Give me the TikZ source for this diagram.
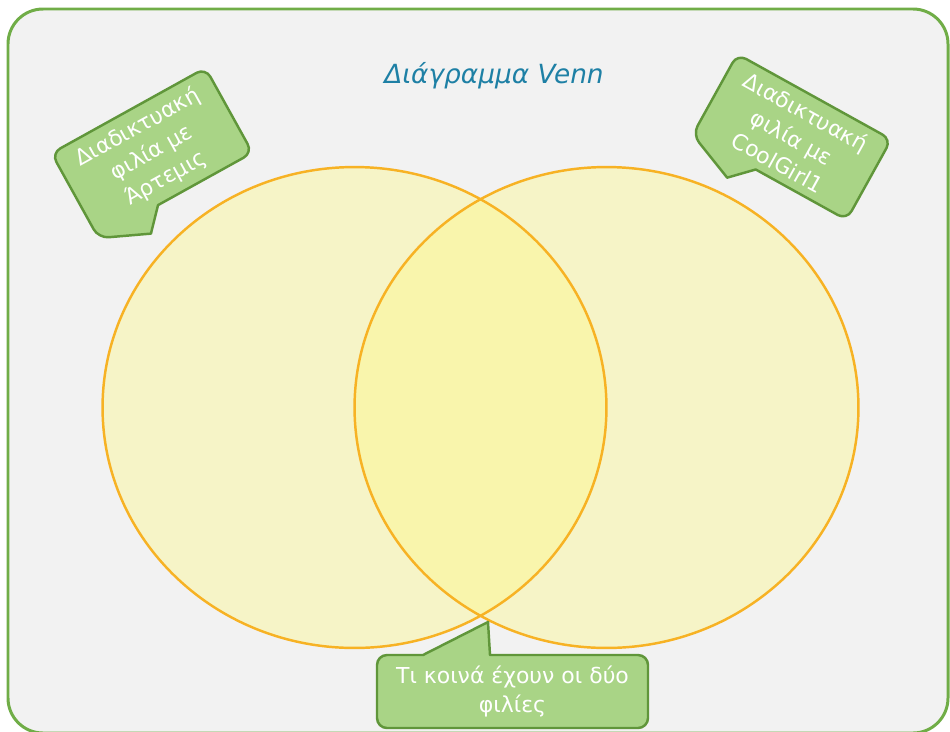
\documentclass[tikz,border=0pt]{standalone}
\usepackage{fontspec}
\setmainfont{DejaVu Sans}[ItalicFont={DejaVu Sans Oblique}]
\definecolor{frameGreen}{RGB}{112,173,71}
\definecolor{bgGrey}{RGB}{242,242,242}
\definecolor{vennYellow}{RGB}{255,248,130}
\definecolor{vennOrange}{RGB}{247,178,36}
\definecolor{bubbleGreen}{RGB}{169,212,134}
\definecolor{bubbleLine}{RGB}{96,150,58}
\definecolor{titleBlue}{RGB}{30,128,165}

\begin{document}
\begin{tikzpicture}[x=0.02cm, y=-0.02cm,
    frame/.style={draw=frameGreen, line width=1.7pt, fill=bgGrey, rounded corners=0.7cm},
    vennfill/.style={fill=vennYellow, fill opacity=0.38},
    vennline/.style={draw=vennOrange, line width=1.4pt},
    bubble/.style={draw=bubbleLine, fill=bubbleGreen, line width=1.4pt, line join=round},
    bubbletext/.style={text=white, align=center, font=\fontsize{12.5}{16.5}\selectfont},
    heading/.style={text=titleBlue, font=\fontsize{15}{18}\selectfont\itshape}]

    \useasboundingbox (0,0) rectangle (950,731);
    \draw[frame] (8,9) rectangle (948,733);

    \fill[vennfill] (354.5,407.5) ellipse [x radius=5.04cm, y radius=4.81cm];
    \fill[vennfill] (606.5,407.5) ellipse [x radius=5.04cm, y radius=4.81cm];
    \draw[vennline] (354.5,407.5) ellipse [x radius=5.04cm, y radius=4.81cm];
    \draw[vennline] (606.5,407.5) ellipse [x radius=5.04cm, y radius=4.81cm];

    \node[heading] (title) at (494,76) {Διάγραμμα Venn};

    \begin{scope}[shift={(152,153)}, rotate=29]
        \draw[bubble] (0,-48.5) [rounded corners=0.2cm] -- (88,-48.5) -- (88,48.5) -- (0,48.5)
            [sharp corners] -- (-20,48.5) -- (-40,70) -- (-64,59.25)
            [rounded corners=0.2cm] -- (-88,48.5) -- (-88,-48.5) -- cycle;
        \node[bubbletext, transform shape] (artemis) at (0,0) {Διαδικτυακή\\φιλία με\\Άρτεμις};
    \end{scope}

    \begin{scope}[shift={(792,137)}, rotate=-29]
        \draw[bubble] (0,-46) [rounded corners=0.2cm] -- (88,-46) -- (88,46) -- (0,46)
            [sharp corners] -- (-16,46) -- (-37,67) -- (-62.5,56.5)
            [rounded corners=0.2cm] -- (-88,46) -- (-88,-46) -- cycle;
        \node[bubbletext, transform shape] (coolgirl) at (0,0) {Διαδικτυακή\\φιλία με\\CoolGirl1};
    \end{scope}

    \draw[bubble] (560,728) [rounded corners=0.2cm] -- (377,728) -- (377,655) -- (400,655)
        [sharp corners] -- (423,655) -- (488,622) -- (490,655) -- (520,655)
        [rounded corners=0.2cm] -- (648,655) -- (648,728) -- cycle;
    \node[bubbletext, font=\fontsize{12.5}{17}\selectfont] (common) at (512.5,691.5) {Τι κοινά έχουν οι δύο\\φιλίες};
\end{tikzpicture}
\end{document}
